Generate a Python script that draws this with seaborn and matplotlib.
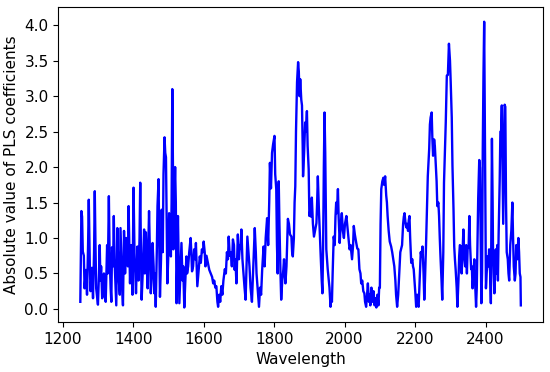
"""
Absolute PLS coefficients plotted against wavelength.
"""

import pandas as pd
import matplotlib
matplotlib.use("Agg")
import matplotlib.pyplot as plt
import seaborn as sns

# values
wavelength = [
    1250, 1253, 1255, 1257, 1260, 1262, 1266, 1269, 1272, 1274, 1277, 1279, 1283, 1286, 1289, 1291,
    1293, 1295, 1300, 1303, 1305, 1307, 1309, 1312, 1314, 1317, 1319, 1322, 1326, 1328, 1331, 1333,
    1336, 1338, 1340, 1343, 1345, 1347, 1350, 1352, 1355, 1357, 1359, 1362, 1364, 1367, 1369, 1371,
    1374, 1377, 1380, 1382, 1385, 1387, 1389, 1391, 1394, 1396, 1398, 1401, 1404, 1406, 1408, 1410,
    1412, 1415, 1418, 1420, 1422, 1424, 1427, 1429, 1431, 1433, 1436, 1438, 1441, 1443, 1445, 1448,
    1450, 1453, 1455, 1458, 1460, 1462, 1464, 1467, 1469, 1472, 1474, 1476, 1479, 1481, 1484, 1486,
    1489, 1491, 1493, 1495, 1497, 1500, 1502, 1505, 1507, 1509, 1511, 1513, 1514, 1516, 1519, 1521,
    1523, 1525, 1527, 1529, 1531, 1534, 1537, 1540, 1542, 1545, 1548, 1551, 1553, 1556, 1559, 1563,
    1565, 1567, 1570, 1573, 1576, 1578, 1580, 1582, 1585, 1589, 1592, 1595, 1598, 1600, 1603, 1605,
    1608, 1612, 1616, 1620, 1624, 1627, 1630, 1633, 1636, 1639, 1641, 1644, 1647, 1650, 1653, 1656,
    1660, 1663, 1666, 1669, 1671, 1674, 1677, 1680, 1683, 1686, 1688, 1690, 1693, 1695, 1697, 1700,
    1703, 1705, 1707, 1710, 1713, 1716, 1719, 1721, 1724, 1727, 1730, 1733, 1737, 1740, 1742, 1745,
    1748, 1750, 1753, 1757, 1760, 1763, 1766, 1770, 1773, 1776, 1780, 1783, 1786, 1788, 1791, 1794,
    1797, 1801, 1803, 1806, 1808, 1810, 1813, 1815, 1818, 1820, 1823, 1826, 1828, 1830, 1832, 1835,
    1839, 1842, 1845, 1849, 1851, 1853, 1856, 1858, 1860, 1862, 1865, 1868, 1870, 1872, 1874, 1877,
    1879, 1881, 1882, 1885, 1888, 1890, 1893, 1895, 1898, 1900, 1903, 1905, 1907, 1910, 1913, 1916,
    1920, 1922, 1924, 1927, 1930, 1932, 1935, 1937, 1939, 1941, 1943, 1945, 1948, 1950, 1952, 1955,
    1957, 1960, 1962, 1964, 1966, 1969, 1972, 1974, 1976, 1978, 1981, 1983, 1986, 1989, 1992, 1995,
    1998, 2001, 2005, 2008, 2011, 2014, 2017, 2021, 2024, 2026, 2029, 2033, 2036, 2039, 2042, 2045,
    2047, 2050, 2053, 2056, 2058, 2061, 2063, 2066, 2069, 2071, 2073, 2076, 2079, 2082, 2085, 2088,
    2090, 2093, 2096, 2098, 2100, 2102, 2104, 2107, 2110, 2112, 2115, 2118, 2120, 2122, 2125, 2128,
    2132, 2135, 2138, 2141, 2144, 2146, 2149, 2152, 2155, 2158, 2160, 2163, 2166, 2168, 2170, 2173,
    2175, 2177, 2180, 2182, 2184, 2186, 2189, 2192, 2194, 2196, 2199, 2201, 2203, 2206, 2208, 2210,
    2213, 2216, 2218, 2221, 2224, 2226, 2228, 2231, 2233, 2236, 2240, 2242, 2244, 2247, 2249, 2251,
    2254, 2256, 2258, 2261, 2263, 2266, 2268, 2270, 2272, 2275, 2277, 2280, 2282, 2285, 2287, 2290,
    2293, 2296, 2299, 2301, 2304, 2306, 2309, 2311, 2313, 2315, 2318, 2320, 2323, 2325, 2327, 2330,
    2332, 2334, 2337, 2339, 2342, 2345, 2347, 2349, 2352, 2354, 2356, 2359, 2361, 2363, 2366, 2368,
    2370, 2373, 2375, 2377, 2379, 2382, 2384, 2386, 2388, 2390, 2392, 2394, 2396, 2398, 2400, 2401,
    2403, 2406, 2408, 2410, 2413, 2415, 2417, 2418, 2420, 2421, 2423, 2425, 2427, 2429, 2431, 2433,
    2435, 2437, 2440, 2442, 2444, 2446, 2448, 2450, 2452, 2454, 2456, 2458, 2460, 2463, 2465, 2467,
    2470, 2473, 2476, 2478, 2480, 2483, 2485, 2487, 2490, 2493, 2495, 2497, 2499, 2500,
]

coef = [
    0.10, 1.38, 1.30, 0.81, 0.75, 0.29, 0.55, 0.20, 0.90, 1.54, 0.60, 0.25, 0.58, 0.15, 0.80, 1.66,
    0.90, 0.29, 0.06, 0.50, 0.90, 0.40, 0.60, 0.15, 0.20, 0.50, 0.37, 0.10, 0.90, 0.50, 1.59, 0.80,
    0.29, 0.10, 0.87, 0.60, 1.31, 0.70, 0.29, 0.05, 1.14, 0.70, 0.43, 0.20, 1.14, 0.60, 0.25, 0.05,
    1.10, 0.50, 1.00, 0.98, 0.60, 1.45, 0.90, 0.36, 0.90, 0.64, 0.20, 1.71, 0.70, 0.50, 0.22, 0.60,
    0.88, 0.40, 1.00, 1.78, 0.80, 0.13, 0.50, 0.80, 1.12, 0.50, 1.08, 0.70, 0.29, 0.90, 1.38, 0.70,
    0.22, 0.50, 0.93, 0.60, 0.22, 0.50, 0.03, 0.80, 1.45, 1.83, 0.90, 0.17, 0.70, 1.40, 0.80, 1.90,
    2.42, 2.20, 2.14, 1.20, 0.36, 0.80, 1.35, 1.10, 0.74, 1.50, 3.10, 1.90, 0.84, 1.40, 2.00, 1.50,
    0.08, 0.60, 1.31, 0.70, 0.08, 0.50, 0.93, 0.40, 0.60, 0.02, 0.40, 0.74, 0.50, 0.60, 0.80, 1.00,
    0.80, 0.53, 0.60, 0.84, 0.70, 0.93, 0.60, 0.32, 0.50, 0.74, 0.65, 0.84, 0.80, 0.95, 0.80, 0.60,
    0.75, 0.65, 0.55, 0.50, 0.45, 0.36, 0.40, 0.30, 0.32, 0.10, 0.03, 0.20, 0.10, 0.32, 0.20, 0.40,
    0.56, 0.50, 0.80, 0.70, 1.02, 0.75, 0.80, 0.60, 0.98, 0.90, 0.55, 0.70, 0.36, 0.70, 1.05, 0.70,
    0.90, 0.85, 1.12, 0.70, 0.50, 0.30, 0.13, 0.50, 1.02, 0.80, 0.60, 0.30, 0.10, 0.50, 0.80, 1.14,
    0.80, 0.50, 0.30, 0.03, 0.30, 0.20, 0.55, 0.88, 0.60, 1.00, 1.28, 0.90, 1.50, 2.06, 1.70, 2.20,
    2.32, 2.44, 1.90, 1.69, 0.90, 0.50, 1.80, 1.20, 0.50, 0.13, 0.40, 0.55, 0.70, 0.50, 0.36, 0.60,
    1.27, 1.20, 1.05, 1.02, 0.80, 0.74, 1.00, 1.50, 1.73, 2.50, 3.20, 3.48, 3.35, 3.00, 3.24, 2.95,
    2.87, 2.30, 1.87, 2.20, 2.63, 2.50, 2.79, 2.30, 1.97, 1.31, 1.40, 1.30, 1.57, 1.20, 1.02, 1.10,
    1.21, 1.50, 1.87, 1.40, 1.00, 0.76, 0.40, 0.22, 0.90, 2.00, 2.77, 2.20, 0.84, 0.70, 0.56, 0.40,
    0.30, 0.03, 0.20, 0.10, 0.50, 1.02, 0.90, 1.30, 1.50, 1.35, 1.69, 1.30, 0.93, 1.20, 1.35, 1.10,
    1.00, 1.20, 1.31, 1.15, 1.00, 0.84, 0.90, 0.70, 0.90, 1.17, 1.05, 0.93, 0.85, 0.84, 0.56, 0.50,
    0.36, 0.40, 0.25, 0.22, 0.10, 0.03, 0.15, 0.36, 0.10, 0.20, 0.05, 0.30, 0.10, 0.25, 0.05, 0.15,
    0.02, 0.20, 0.05, 0.30, 0.30, 1.20, 1.69, 1.80, 1.85, 1.75, 1.87, 1.60, 1.50, 1.31, 1.10, 0.95,
    0.88, 0.80, 0.70, 0.60, 0.40, 0.20, 0.03, 0.20, 0.50, 0.80, 0.84, 0.90, 1.20, 1.30, 1.35, 1.20,
    1.15, 1.20, 1.10, 1.25, 1.31, 1.00, 0.65, 0.70, 0.60, 0.56, 0.35, 0.20, 0.03, 0.20, 0.05, 0.03,
    0.40, 0.80, 0.74, 0.88, 0.50, 0.13, 0.40, 0.90, 1.31, 1.87, 2.26, 2.60, 2.70, 2.77, 2.40, 2.16,
    2.39, 2.30, 2.11, 1.80, 1.45, 1.50, 1.31, 1.00, 0.74, 0.40, 0.13, 0.80, 1.78, 2.30, 2.63, 3.29,
    3.30, 3.74, 3.50, 3.20, 2.70, 2.02, 1.40, 0.88, 0.70, 0.56, 0.30, 0.03, 0.40, 0.74, 0.90, 0.88,
    0.50, 0.70, 1.12, 0.80, 0.60, 0.90, 0.50, 0.84, 0.90, 1.31, 0.90, 0.56, 0.60, 0.29, 0.50, 0.70,
    0.40, 0.03, 0.30, 0.90, 1.55, 2.10, 1.99, 1.00, 0.08, 0.50, 2.25, 3.30, 4.05, 2.50, 0.80, 0.29,
    0.50, 0.74, 0.60, 0.84, 0.50, 0.08, 1.50, 2.40, 1.50, 0.88, 0.50, 0.22, 0.60, 0.84, 0.50, 0.90,
    0.40, 1.05, 1.80, 2.50, 2.50, 2.87, 2.00, 1.20, 2.00, 2.88, 2.85, 1.50, 0.80, 0.70, 0.50, 0.40,
    0.90, 1.10, 1.50, 1.00, 0.60, 0.40, 0.50, 0.90, 0.70, 1.00, 0.80, 0.50, 0.45, 0.05,
]


def main():
    plt.rcParams["font.size"] = 11
    df = pd.DataFrame({"Wavelength": wavelength, "coef": coef})

    fig, ax = plt.subplots(figsize=(5.5, 3.72), dpi=100)
    fig.subplots_adjust(left=0.106, right=0.987, bottom=0.135, top=0.980)

    sns.lineplot(data=df, x="Wavelength", y="coef", color="blue", linewidth=1.7, ax=ax)

    ax.set_xlabel("Wavelength", fontsize=11)
    ax.set_ylabel("Absolute value of PLS coefficients", fontsize=11)
    ax.set_xticks([1200, 1400, 1600, 1800, 2000, 2200, 2400])
    ax.set_yticks([0.0, 0.5, 1.0, 1.5, 2.0, 2.5, 3.0, 3.5, 4.0])
    ax.tick_params(labelsize=11)

    fig.savefig("out.png", dpi=100)


if __name__ == "__main__":
    main()
